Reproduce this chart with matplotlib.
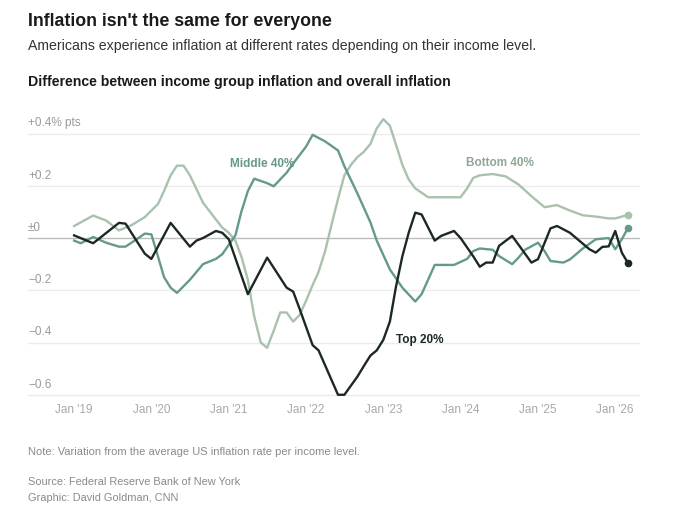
import pandas as pd
import matplotlib
matplotlib.use("Agg")
import matplotlib.pyplot as plt

# values (difference in % pts vs. overall inflation)
top20_dates = ["2019-01", "2019-04", "2019-08", "2019-09", "2019-12", "2020-01", "2020-04",
               "2020-07", "2020-08", "2020-09", "2020-11", "2020-12", "2021-01", "2021-04",
               "2021-07", "2021-10", "2021-11", "2021-12", "2022-02", "2022-03", "2022-06",
               "2022-07", "2022-09", "2022-10", "2022-11", "2022-12", "2023-01", "2023-02",
               "2023-03", "2023-04", "2023-05", "2023-06", "2023-07", "2023-09", "2023-10",
               "2023-12", "2024-01", "2024-03", "2024-04", "2024-05", "2024-06", "2024-07",
               "2024-09", "2024-12", "2025-01", "2025-03", "2025-04", "2025-06", "2025-09",
               "2025-10", "2025-11", "2025-12", "2026-01", "2026-02", "2026-03"]
top20_vals = [0.01, -0.02, 0.058, 0.055, -0.06, -0.08, 0.058,
              -0.033, -0.01, 0.0, 0.027, 0.02, -0.005, -0.215,
              -0.075, -0.19, -0.205, -0.27, -0.41, -0.43, -0.6,
              -0.6, -0.53, -0.49, -0.45, -0.43, -0.39, -0.32,
              -0.19, -0.07, 0.02, 0.097, 0.09, -0.01, 0.008,
              0.027, 0.0, -0.07, -0.11, -0.094, -0.094, -0.03,
              0.008, -0.094, -0.081, 0.037, 0.046, 0.02, -0.043,
              -0.056, -0.034, -0.032, 0.027, -0.056, -0.094]

middle40_dates = ["2019-01", "2019-02", "2019-04", "2019-06", "2019-08", "2019-09", "2019-11",
                  "2019-12", "2020-01", "2020-02", "2020-03", "2020-04", "2020-05", "2020-07",
                  "2020-09", "2020-11", "2020-12", "2021-02", "2021-03", "2021-04", "2021-05",
                  "2021-07", "2021-08", "2021-10", "2021-11", "2022-01", "2022-02", "2022-04",
                  "2022-06", "2022-07", "2022-09", "2022-11", "2022-12", "2023-02", "2023-04",
                  "2023-06", "2023-07", "2023-09", "2023-12", "2024-02", "2024-03", "2024-04",
                  "2024-06", "2024-07", "2024-09", "2024-10", "2024-11", "2025-01", "2025-02",
                  "2025-03", "2025-05", "2025-06", "2025-08", "2025-10", "2025-12", "2026-01",
                  "2026-02", "2026-03"]
middle40_vals = [-0.01, -0.02, 0.004, -0.018, -0.033, -0.033, 0.0,
                 0.017, 0.014, -0.07, -0.15, -0.19, -0.21, -0.16,
                 -0.1, -0.08, -0.062, 0.01, 0.1, 0.18, 0.227,
                 0.21, 0.198, 0.25, 0.285, 0.35, 0.395, 0.37,
                 0.335, 0.275, 0.17, 0.06, -0.01, -0.12, -0.19,
                 -0.243, -0.215, -0.103, -0.103, -0.08, -0.05, -0.04,
                 -0.045, -0.069, -0.1, -0.075, -0.045, -0.018, -0.05,
                 -0.088, -0.094, -0.082, -0.04, -0.005, 0.0, -0.043,
                 -0.005, 0.037]

bottom40_dates = ["2019-01", "2019-04", "2019-06", "2019-08", "2019-10", "2019-12", "2020-02",
                  "2020-03", "2020-04", "2020-05", "2020-06", "2020-07", "2020-09", "2020-11",
                  "2020-12", "2021-01", "2021-02", "2021-03", "2021-04", "2021-05", "2021-06",
                  "2021-07", "2021-08", "2021-09", "2021-10", "2021-11", "2021-12", "2022-01",
                  "2022-02", "2022-03", "2022-04", "2022-05", "2022-06", "2022-07", "2022-08",
                  "2022-09", "2022-10", "2022-11", "2022-12", "2023-01", "2023-02", "2023-03",
                  "2023-04", "2023-05", "2023-06", "2023-08", "2024-01", "2024-02", "2024-03",
                  "2024-04", "2024-06", "2024-08", "2024-10", "2024-12", "2025-02", "2025-04",
                  "2025-06", "2025-08", "2025-10", "2025-12", "2026-01", "2026-02", "2026-03"]
bottom40_vals = [0.046, 0.086, 0.067, 0.029, 0.05, 0.08, 0.13,
                 0.18, 0.24, 0.277, 0.277, 0.24, 0.135, 0.071,
                 0.04, 0.02, -0.01, -0.07, -0.16, -0.3, -0.4,
                 -0.42, -0.355, -0.285, -0.285, -0.32, -0.295, -0.24,
                 -0.18, -0.13, -0.05, 0.05, 0.15, 0.24, 0.28,
                 0.31, 0.33, 0.36, 0.42, 0.455, 0.43, 0.36,
                 0.28, 0.224, 0.19, 0.156, 0.156, 0.19, 0.23,
                 0.24, 0.245, 0.236, 0.205, 0.16, 0.118, 0.126,
                 0.105, 0.087, 0.082, 0.075, 0.075, 0.082, 0.088]

ytick_vals = [0.4, 0.2, 0.0, -0.2, -0.4, -0.6]
ytick_labels = ["+0.4% pts", "+0.2", "\u00b10", "\u22120.2", "\u22120.4", "\u22120.6"]
xtick_years = list(range(2019, 2027))
xtick_labels = ["Jan '%02d" % (y % 100) for y in xtick_years]

C_TOP, C_MID, C_BOT = "#1c2923", "#65998a", "#a8c2ad"
FONT = "Liberation Sans"

fig = plt.figure(figsize=(7.0, 5.19), dpi=100)
ax = fig.add_axes([28 / 700, 119 / 519, 612 / 700, 290 / 519])

series = [
    ("Bottom 40%", bottom40_dates, bottom40_vals, C_BOT),
    ("Middle 40%", middle40_dates, middle40_vals, C_MID),
    ("Top 20%", top20_dates, top20_vals, C_TOP),
]
for name, d, v, c in series:
    dd = pd.to_datetime(d)
    ax.plot(dd, v, color=c, lw=1.7, solid_joinstyle="round", zorder=3)
    ax.plot(dd[-1], v[-1], "o", color=c, ms=4.5, zorder=4)

ax.set_xlim(pd.Timestamp("2018-05-28"), pd.Timestamp("2026-04-28"))
ax.set_ylim(-0.62, 0.49)

for val, lab in zip(ytick_vals, ytick_labels):
    ax.axhline(val, color="#bdbdbd" if val == 0 else "#ececec", lw=1.0, zorder=1)
    ax.annotate(lab, xy=(0, val), xycoords=("axes fraction", "data"),
                xytext=(0, 3), textcoords="offset points", ha="left", va="bottom",
                fontsize=8.5, color="#9a9a9a", family=FONT)

ax.set_xticks(pd.to_datetime(["%d-01-01" % y for y in xtick_years]))
ax.set_xticklabels(xtick_labels, fontsize=8.5, color="#a8a8a8", family=FONT)
ax.tick_params(axis="x", length=0, pad=3)
ax.set_yticks([])
for s in ax.spines.values():
    s.set_visible(False)

ax.text(pd.Timestamp("2021-06-10"), 0.282, "Middle 40%", color=C_MID, fontsize=8.5,
        fontweight="bold", ha="center", va="center", family=FONT)
ax.text(pd.Timestamp("2024-07-05"), 0.286, "Bottom 40%", color="#8fa697", fontsize=8.5,
        fontweight="bold", ha="center", va="center", family=FONT)
ax.text(pd.Timestamp("2023-06-20"), -0.392, "Top 20%", color=C_TOP, fontsize=8.5,
        fontweight="bold", ha="center", va="center", family=FONT)

fig.text(28 / 700, 1 - 22 / 519, "Inflation isn't the same for everyone", fontsize=12.8,
         fontweight="bold", color="#1a1a1a", va="center", family=FONT)
fig.text(28 / 700, 1 - 46 / 519, "Americans experience inflation at different rates depending on their income level.",
         fontsize=10.2, color="#333333", va="center", family=FONT)
fig.text(28 / 700, 1 - 82 / 519, "Difference between income group inflation and overall inflation",
         fontsize=10.2, fontweight="bold", color="#1a1a1a", va="center", family=FONT)

fig.text(28 / 700, 1 - 452 / 519, "Note: Variation from the average US inflation rate per income level.",
         fontsize=8.0, color="#8a8a8a", va="center", family=FONT)
fig.text(28 / 700, 1 - 482 / 519, "Source: Federal Reserve Bank of New York",
         fontsize=7.9, color="#8a8a8a", va="center", family=FONT)
fig.text(28 / 700, 1 - 498 / 519, "Graphic: David Goldman, CNN",
         fontsize=7.9, color="#8a8a8a", va="center", family=FONT)

fig.savefig("out.png", dpi=100)
